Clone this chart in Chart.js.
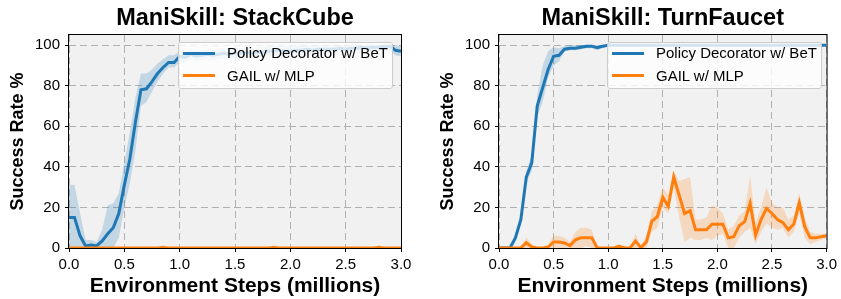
<!DOCTYPE html>
<html><head><meta charset="utf-8">
<script src="https://cdn.jsdelivr.net/npm/chart.js@4.4.1/dist/chart.umd.min.js"></script>
<style>
body{margin:0;background:#fff;width:841px;height:299px;overflow:hidden;position:relative;font-family:"Liberation Sans",Arial,sans-serif;}
canvas{position:absolute;top:0;}
#c1{left:0}
#c2{left:430px}
.legend{position:absolute;top:42px;width:213px;height:45px;background:rgba(255,255,255,0.8);border:1px solid #cccccc;border-radius:3px;font-size:15px;color:#000;}
.sw{position:absolute;left:4px;width:32px;height:3px;}
.lbl{position:absolute;left:48px;white-space:nowrap;line-height:18px;}
</style></head>
<body>
<canvas id="c1" width="420" height="299"></canvas>
<canvas id="c2" width="411" height="299"></canvas>
<div class="legend" style="left:178px">
  <div class="sw" style="top:8.8px;background:#1f77b4"></div><div class="lbl" style="top:1.3px">Policy Decorator w/ BeT</div>
  <div class="sw" style="top:31.2px;background:#ff7f0e"></div><div class="lbl" style="top:23.7px">GAIL w/ MLP</div>
</div>
<div class="legend" style="left:607px">
  <div class="sw" style="top:8.8px;background:#1f77b4"></div><div class="lbl" style="top:1.3px">Policy Decorator w/ BeT</div>
  <div class="sw" style="top:31.2px;background:#ff7f0e"></div><div class="lbl" style="top:23.7px">GAIL w/ MLP</div>
</div>
<script>
// Environment steps (millions)
const steps = [0.00,0.05,0.10,0.15,0.20,0.25,0.30,0.35,0.40,0.45,0.50,0.55,0.60,0.65,0.70,0.75,0.80,0.85,0.90,0.95,
1.00,1.05,1.10,1.15,1.20,1.25,1.30,1.35,1.40,1.45,1.50,1.55,1.60,1.65,1.70,1.75,1.80,1.85,1.90,1.95,
2.00,2.05,2.10,2.15,2.20,2.25,2.30,2.35,2.40,2.45,2.50,2.55,2.60,2.65,2.70,2.75,2.80,2.85,2.90,2.95,3.00];
const xTicks = [0.0,0.5,1.0,1.5,2.0,2.5,3.0];
const yTicks = [0,20,40,60,80,100];
const seriesNames = ['Policy Decorator w/ BeT','GAIL w/ MLP'];

// ManiSkill: StackCube
const stackPD = [15,15,6,1,1.5,1,3.5,7,10,17,31,44,62,78,78.5,82,86,89,91.5,91.5,
94.5,94,95.5,94.5,95,95.5,95,95.5,96,95.5,96,96,96.5,96,96.5,96.5,97,97,97.5,97,
97,97.5,97.5,98,97.5,98,98,98,98,98.5,98,98.5,98.5,99,98.5,99,99,99.5,99.5,97.5,97];
const stackPDlo = [0,0,0,0,0,0,0,0,0,5,20,32,48,70,72,77,82,86,89,89,
92,91.5,93,92,92.5,93,92.5,93,93.5,93,93.5,93.5,94,93.5,94,94,94.5,94.5,95,94.5,
94.5,95,95,95.5,95,95.5,95.5,95.5,95.5,96,95.5,96,96,96.5,96,96.5,96.5,97,97,95,94.5];
const stackPDhi = [31,31,17,4,4,3,9,21,22,27,42,57,74,86,86,88,91,93,95,95,
97,96.5,98,97,97.5,98,97.5,98,98.5,98,98.5,98.5,99,98.5,99,99,99.5,99.5,100,99.5,
99.5,100,100,100,100,100,100,100,100,100,100,100,100,100,100,100,100,100,100,100,99.5];
const stackGAIL = [0,0,0,0,0,0,0,0,0,0,0,0,0,0,0,0,0,0.3,0,0,
0,0,0,0,0,0,0,0,0,0,0,0,0,0,0,0,0,0.3,0,0,
0,0,0,0,0,0,0,0,0,0,0,0,0,0,0,0,0.3,0,0,0,0];
const stackGAILlo = [0,0,0,0,0,0,0,0,0,0,0,0,0,0,0,0,0,0,0,0,
0,0,0,0,0,0,0,0,0,0,0,0,0,0,0,0,0,0,0,0,
0,0,0,0,0,0,0,0,0,0,0,0,0,0,0,0,0,0,0,0,0];
const stackGAILhi = [0,0,0,0,0,0,0,0,0,0,0,0,0,0,0,0,0,1.5,0,0,
0,0,0,0,0,0,0,0,0,0,0,0,0,0,0,0,0,1.5,0,0,
0,0,0,0,0,0,0,0,0,0,0,0,0,0,0,0,1.5,0,0,0,0];

// ManiSkill: TurnFaucet
const faucetPD = [0,0,0,5,14,35,42,70,79,88,94.5,95,98,98.5,98.5,99,99.5,99.5,98.7,99.5,
100,100,100,100,100,100,100,100,100,100,100,100,100,100,100,100,100,100,100,100,
100,100,100,100,100,100,100,100,100,100,100,100,100,100,100,100,100,100,100,100,100];
const faucetPDlo = [0,0,0,3,12,32,38,65,72,84,90,92,97,97.5,97.5,98,98.5,98.5,97.5,98.5,
99.5,99.5,99.5,99.5,99.5,99.5,99.5,99.5,99.5,99.5,99.5,99.5,99.5,99.5,99.5,99.5,99.5,99.5,99.5,99.5,
99.5,99.5,99.5,99.5,99.5,99.5,99.5,99.5,99.5,99.5,99.5,99.5,99.5,99.5,99.5,99.5,99.5,99.5,99.5,99.5,99.5];
const faucetPDhi = [0,0,0,7,17,38,46,75,90,97,99,98.5,99.5,100,100,100,100,100,100,100,
100,100,100,100,100,100,100,100,100,100,100,100,100,100,100,100,100,100,100,100,
100,100,100,100,100,100,100,100,100,100,100,100,100,100,100,100,100,100,100,100,100];
const faucetGAIL = [0,0,0,0,0,2.6,0.5,0,0,0.5,3,3,2.5,1.2,4,5,5,5,0,0,
0,0,0.8,0,0,3.4,0.2,3,13.3,15.4,25,20.5,35,26,17,18.4,9,9,9,11.7,
11.7,11.7,5,5.6,11,13,22,6.4,14,19.5,17,14,12.5,9,11.8,22.3,10.5,5,5,5.5,6];
const faucetGAILlo = [0,0,0,0,0,0,0,0,0,0,0,0,0,0,0,0,1,0,0,0,
0,0,0,0,0,0,0,0,8,10,20,17,30,15,3,5,4,4,5,4,
6,7,0,0,5,8,10,2,8,12,10,9,10,5,8,17,5,2,3,4,5];
const faucetGAILhi = [0,0,0,0,1,5,2,0,0,1.5,6,6,5,3,8,10,10,9,0,0,
0,0,2,0,0,7,1,6,18,21,30,26,38,33,34,35,14,14,15,21,
20,17,9,11,16,18,36,12,20,30,22,20,20,14,16,27,15,8,7,7,7];

const BLUE = '#1f77b4', ORANGE = '#ff7f0e';
const BLUE_BAND = 'rgba(31,119,180,0.22)', ORANGE_BAND = 'rgba(255,127,14,0.22)';
Chart.defaults.font.family = "'Liberation Sans', Arial, sans-serif";
Chart.defaults.color = '#000';

const frame = {
  id: 'frame',
  beforeDraw(chart) {
    const {ctx, chartArea: a} = chart;
    ctx.save(); ctx.fillStyle = '#f1f1f1';
    ctx.fillRect(a.left, a.top, a.width, a.height); ctx.restore();
  },
  afterDatasetsDraw(chart) {
    const {ctx, chartArea: a} = chart;
    ctx.save(); ctx.strokeStyle = '#000'; ctx.lineWidth = 1;
    ctx.strokeRect(a.left - 0.5, a.top - 0.5, a.width + 1, a.height + 1); ctx.restore();
  }
};

function pts(arr) { return steps.map((x, i) => ({x: x, y: arr[i]})); }

function makeChart(id, title, pd, pdLo, pdHi, gail, gLo, gHi, padRight) {
  const bandDs = (arr, color, fill, order) => ({data: pts(arr), borderWidth: 0, pointRadius: 0,
    backgroundColor: color, fill: fill, order: order});
  const lineDs = (arr, color, label, order) => ({label: label, data: pts(arr), borderColor: color,
    backgroundColor: color, borderWidth: 3, pointRadius: 0, fill: false, order: order, tension: 0});
  return new Chart(document.getElementById(id), {
    type: 'line',
    data: {datasets: [
      bandDs(pdLo, BLUE_BAND, false, 5),
      bandDs(pdHi, BLUE_BAND, '-1', 4),
      bandDs(gLo, ORANGE_BAND, false, 3),
      bandDs(gHi, ORANGE_BAND, '-1', 2),
      lineDs(pd, BLUE, seriesNames[0], 1),
      lineDs(gail, ORANGE, seriesNames[1], 0)
    ]},
    options: {
      responsive: false, animation: false, devicePixelRatio: 1, events: [],
      layout: {padding: {left: 0, right: padRight, top: 0, bottom: 0}},
      plugins: {
        legend: {display: false}, tooltip: {enabled: false},
        title: {display: true, text: title, fullSize: false, color: '#000',
          font: {size: 23.5, weight: 'bold'}, padding: {top: 4, bottom: 2.8}}
      },
      scales: {
        x: {type: 'linear', min: 0, max: 3,
          afterFit: s => { s.height = 51; },
          afterBuildTicks: s => { s.ticks = xTicks.map(v => ({value: v})); },
          ticks: {callback: v => Number(v).toFixed(1), font: {size: 15}, color: '#000', padding: 4, maxRotation: 0, autoSkip: false},
          grid: {color: '#b0b0b0', lineWidth: 1, tickColor: '#000', tickLength: 4, tickWidth: 1, tickBorderDash: []},
          border: {display: false, dash: [7, 4]},
          title: {display: true, text: 'Environment Steps (millions)', color: '#000',
            font: {size: 21, weight: 'bold'}, padding: {top: 0, bottom: 0}}
        },
        y: {type: 'linear', min: 0, max: 105,
          afterFit: s => { s.width = 69; },
          afterBuildTicks: s => { s.ticks = yTicks.map(v => ({value: v})); },
          ticks: {font: {size: 15}, color: '#000', padding: 5, autoSkip: false},
          grid: {color: '#b0b0b0', lineWidth: 1, tickColor: '#000', tickLength: 4, tickWidth: 1, tickBorderDash: []},
          border: {display: false, dash: [7, 4]},
          title: {display: true, text: 'Success Rate %', color: '#000',
            font: {size: 18, weight: 'bold'}, padding: {top: 7.5, bottom: 0}}
        }
      }
    },
    plugins: [frame]
  });
}

makeChart('c1', 'ManiSkill: StackCube', stackPD, stackPDlo, stackPDhi, stackGAIL, stackGAILlo, stackGAILhi, 19);
makeChart('c2', 'ManiSkill: TurnFaucet', faucetPD, faucetPDlo, faucetPDhi, faucetGAIL, faucetGAILlo, faucetGAILhi, 11);
</script>
</body></html>
